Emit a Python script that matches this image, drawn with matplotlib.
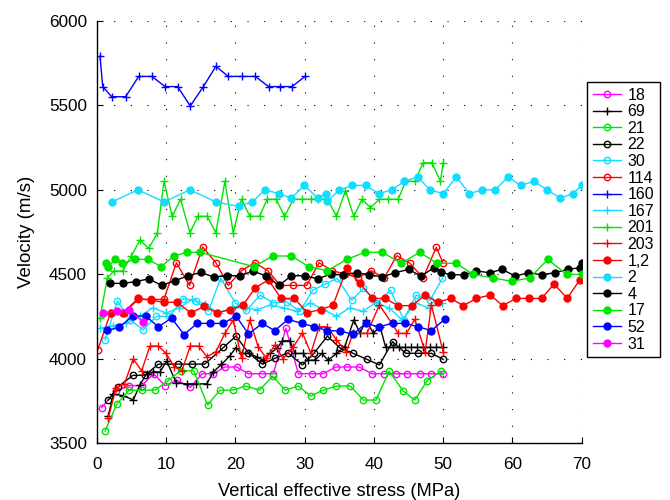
import numpy as np
import matplotlib
matplotlib.use("Agg")
import matplotlib.pyplot as plt

plt.rcParams['font.family'] = ['Liberation Sans', 'DejaVu Sans']

# ---- data: vertical effective stress (MPa) vs. velocity (m/s) per sample ----
s18_x = [0.72, 2.78, 4.7, 6.5, 8.2, 9.86, 11.6, 13.5, 15.2, 16.8, 18.5, 20.2, 21.9, 23.8, 25.5,
         27.3, 29.1, 31.0, 32.7, 34.5, 36.1, 37.9, 39.7, 41.4, 43.2, 44.8, 46.6, 48.3, 50.0]
s18_v = [3710, 3810, 3840, 3840, 3910, 3840, 3870, 3830, 3910, 3910, 3950, 3950, 3910, 3910, 3910,
         4180, 3910, 3910, 3910, 3950, 3950, 3950, 3910, 3910, 3910, 3910, 3910, 3910, 3910]

s69_x = [1.67, 2.4, 3.84, 5.28, 6.25, 7.2, 8.17, 9.13, 10.1, 11.5, 13.0, 14.4, 15.9, 16.8, 18.0,
         19.2, 20.1, 20.9, 22.0, 23.1, 24.0, 25.0, 26.0, 26.8, 27.9, 28.6, 29.8, 30.5, 31.5, 32.5,
         33.4, 34.6, 35.8, 37.1, 38.0, 38.9, 39.9, 40.9, 41.7, 42.7, 43.6, 44.5, 45.3, 46.2, 47.1,
         48.1, 49.0, 50.0]
s69_v = [3660, 3790, 3780, 3755, 3845, 3910, 3920, 3920, 3985, 3855, 3850, 3850, 3850, 3920, 3965,
         4015, 4065, 4030, 4030, 4010, 3990, 4030, 4060, 4105, 4105, 4030, 4030, 3990, 3990, 4030,
         3990, 4030, 4070, 4228, 4150, 4228, 4150, 4188, 4066, 4066, 4066, 4066, 4066, 4066, 4066,
         4066, 4066, 4066]

s21_x = [1.2, 2.89, 4.66, 6.49, 8.41, 10.3, 12.1, 14.0, 16.0, 17.8, 19.6, 21.5, 23.5, 25.4, 27.2,
         29.1, 30.9, 32.7, 34.6, 36.6, 38.5, 40.3, 42.2, 44.2, 45.9, 47.7, 49.7]
s21_v = [3570, 3730, 3813, 3813, 3813, 3869, 3928, 3928, 3725, 3813, 3813, 3837, 3813, 3896, 3813,
         3837, 3778, 3813, 3837, 3837, 3754, 3754, 3926, 3809, 3754, 3869, 3926]

s22_x = [1.67, 3.1, 5.2, 7.0, 8.9, 11.8, 13.7, 15.6, 18.3, 20.1, 21.9, 23.9, 25.7, 27.6, 29.7,
         31.4, 33.3, 35.1, 37.0, 39.0, 40.8, 42.7, 44.6, 46.4, 48.3, 50.0]
s22_v = [3754, 3833, 3900, 3902, 3967, 3967, 3967, 3967, 4066, 4133, 4034, 3967, 4001, 4034, 3962,
         4034, 4133, 4063, 4031, 3995, 3962, 4100, 4031, 4031, 4031, 3995]

s30_x = [1.2, 3.0, 4.8, 6.7, 8.6, 10.5, 12.5, 14.3, 16.1, 17.9, 20.0, 21.6, 23.6, 25.5, 27.4,
         29.3, 31.2, 32.9, 34.7, 36.8, 38.5, 40.5, 42.4, 44.3, 46.1, 48.1, 49.9]
s30_v = [4110, 4340, 4230, 4170, 4250, 4250, 4355, 4340, 4280, 4475, 4330, 4285, 4375, 4330, 4335,
         4280, 4405, 4440, 4475, 4345, 4415, 4330, 4405, 4230, 4375, 4345, 4475]

s114_x = [0.14, 2.0, 3.9, 6.0, 7.84, 9.7, 11.5, 13.4, 15.3, 17.2, 19.0, 20.9, 22.8, 24.7, 26.5,
          28.4, 30.3, 32.1, 34.0, 35.9, 37.75, 39.6, 41.5, 43.3, 45.2, 47.1, 49.0, 50.0]
s114_v = [4050, 4270, 4270, 4350, 4350, 4350, 4567, 4433, 4660, 4567, 4433, 4520, 4567, 4520, 4433,
          4433, 4433, 4567, 4520, 4500, 4478, 4520, 4478, 4609, 4564, 4477, 4658, 4564]

s160_x = [0.48, 0.87, 2.16, 4.18, 6.06, 7.98, 9.86, 11.68, 13.5, 15.4, 17.2, 19.0, 20.97, 22.9,
          24.8, 26.4, 28.2, 30.06]
s160_v = [5790, 5610, 5550, 5550, 5670, 5670, 5610, 5610, 5495, 5610, 5730, 5670, 5670, 5670,
          5610, 5610, 5610, 5670]

s167_x = [0.5, 2.4, 4.3, 6.2, 8.1, 10.0, 11.9, 13.8, 15.7, 17.6, 19.5, 21.4, 23.2, 25.1, 27.0,
          28.9, 30.8, 32.7, 34.6, 36.5, 38.4, 40.3, 42.2, 44.1, 46.0, 47.9, 49.8]
s167_v = [4180, 4195, 4210, 4250, 4300, 4270, 4300, 4350, 4320, 4270, 4300, 4300, 4290, 4317, 4300,
          4280, 4330, 4290, 4250, 4300, 4280, 4330, 4300, 4228, 4330, 4300, 4330]

s201_x = [0.48, 1.53, 2.5, 3.75, 5.0, 6.25, 7.5, 8.75, 9.71, 10.9, 12.1, 13.46, 14.6, 15.96, 17.2,
          18.5, 19.7, 20.9, 22.1, 23.5, 24.6, 25.9, 27.1, 28.4, 29.6, 30.9, 32.0, 33.3, 34.6, 35.9,
          37.1, 38.3, 39.5, 40.8, 42.1, 43.5, 44.6, 45.9, 47.1, 48.4, 49.6, 50.0]
s201_v = [4238, 4478, 4518, 4518, 4607, 4702, 4652, 4741, 5049, 4842, 4943, 4745, 4842, 4842, 4745,
          5049, 4745, 4943, 4842, 4842, 4943, 4943, 4842, 4943, 4943, 4943, 4943, 4943, 4842, 4994,
          4842, 4943, 4893, 4943, 4943, 4943, 5049, 5049, 5159, 5159, 5049, 5159]

s203_x = [1.67, 2.78, 4.0, 5.28, 6.49, 7.69, 8.89, 10.0, 11.2, 12.3, 13.5, 14.7, 15.9, 17.2, 18.5,
          19.7, 20.9, 22.1, 23.3, 24.5, 25.7, 26.9, 28.4, 29.7, 30.9, 32.1, 33.3, 34.6, 36.0, 37.0,
          39.0, 40.8, 42.6, 43.5, 44.7, 45.9, 47.4, 48.3, 50.0]
s203_v = [3646, 3827, 3850, 3997, 3928, 4074, 4074, 4031, 3951, 3928, 4074, 4074, 4011, 4040, 4149,
          4228, 4001, 4228, 4070, 4001, 4080, 4000, 4070, 4153, 4031, 4188, 4188, 4110, 4040, 4149,
          4149, 4317, 4208, 4149, 4149, 4232, 4040, 4317, 4040]

s1_2_x = [2.02, 3.75, 6.0, 7.84, 9.71, 11.6, 13.6, 15.5, 17.4, 19.2, 21.1, 22.9, 24.8, 26.6, 28.5,
          30.4, 32.3, 34.1, 36.1, 38.0, 39.8, 41.6, 43.5, 45.5, 47.4, 49.2, 51.1, 52.9, 54.8, 56.8,
          58.6, 60.5, 62.4, 64.2, 66.0, 67.9, 69.7]
s1_2_v = [4270, 4270, 4356, 4345, 4333, 4333, 4270, 4309, 4270, 4290, 4315, 4420, 4465, 4356, 4356,
          4272, 4290, 4315, 4534, 4445, 4356, 4356, 4313, 4313, 4376, 4333, 4356, 4313, 4356, 4376,
          4313, 4356, 4356, 4356, 4441, 4356, 4465]

s2_x = [2.21, 5.96, 9.71, 13.46, 17.2, 20.5, 22.45, 24.3, 26.3, 28.1, 29.96, 31.9, 33.1, 33.3,
        35.0, 36.9, 38.8, 40.7, 42.6, 44.4, 46.3, 48.1, 50.0, 51.9, 53.8, 55.6, 57.5, 59.4, 61.2,
        63.1, 65.0, 66.9, 68.7, 70.0]
s2_v = [4927, 4999, 4927, 4999, 4927, 4901, 4927, 4999, 4976, 4950, 5025, 4950, 4976, 4930,
        4999, 5025, 5025, 4976, 4999, 5049, 5075, 4999, 4976, 5075, 4976, 4999, 4999, 5075, 5025,
        5049, 4999, 4950, 4976, 5025]

s4_x = [1.92, 3.75, 5.63, 7.5, 9.38, 11.3, 13.2, 15.05, 16.9, 18.8, 20.7, 22.5, 24.4, 26.3, 28.1,
        30.0, 31.9, 33.8, 35.6, 37.5, 39.3, 41.2, 43.1, 45.0, 46.8, 48.7, 49.7, 51.2, 53.0, 54.8,
        56.75, 58.5, 60.4, 62.3, 64.2, 66.1, 68.0, 69.8, 70.0]
s4_v = [4445, 4445, 4455, 4472, 4433, 4461, 4490, 4510, 4482, 4490, 4490, 4518, 4490, 4433, 4490,
        4490, 4472, 4500, 4496, 4508, 4496, 4484, 4508, 4528, 4488, 4538, 4510, 4496, 4496, 4518,
        4508, 4528, 4488, 4508, 4496, 4508, 4528, 4538, 4567]

s17_x = [1.34, 1.68, 2.64, 3.7, 5.53, 7.45, 9.28, 11.15, 13.0, 14.9, 22.7, 25.4, 28.1, 30.6, 33.3,
         36.1, 38.7, 41.2, 43.95, 46.6, 49.1, 51.9, 54.3, 57.2, 59.9, 62.5, 65.1, 67.8, 70.0]
s17_v = [4564, 4544, 4587, 4564, 4587, 4587, 4544, 4607, 4629, 4629, 4544, 4607, 4607, 4544, 4520,
         4587, 4629, 4629, 4564, 4629, 4564, 4564, 4498, 4477, 4457, 4477, 4587, 4498, 4498]

s52_x = [1.53, 3.26, 5.2, 7.1, 8.9, 10.8, 12.6, 14.5, 16.4, 18.3, 20.1, 21.9, 23.9, 25.7, 27.6,
         29.6, 31.4, 33.3, 35.1, 37.0, 38.8, 40.7, 42.7, 44.5, 46.4, 48.3, 50.2]
s52_v = [4167, 4185, 4252, 4252, 4187, 4240, 4142, 4208, 4208, 4208, 4253, 4145, 4208, 4165, 4232,
         4208, 4188, 4165, 4164, 4143, 4208, 4188, 4208, 4208, 4188, 4165, 4232]

s31_x = [0.95, 2.97, 4.7, 6.7]
s31_v = [4270, 4283, 4285, 4218]

labels = ['18', '69', '21', '22', '30', '114', '160', '167', '201', '203',
          '1,2', '2', '4', '17', '52', '31']

MAG, BLK, GRN, CYN, RED, BLU = '#ff00ff', '#000000', '#00e400', '#11ddff', '#ff0000', '#0000ff'

# (x, v, colour, marker, filled)
series = [
    (s18_x, s18_v, MAG, 'o', False),
    (s69_x, s69_v, BLK, '+', True),
    (s21_x, s21_v, GRN, 'o', False),
    (s22_x, s22_v, BLK, 'o', False),
    (s30_x, s30_v, CYN, 'o', False),
    (s114_x, s114_v, RED, 'o', False),
    (s160_x, s160_v, BLU, '+', True),
    (s167_x, s167_v, CYN, '+', True),
    (s201_x, s201_v, GRN, '+', True),
    (s203_x, s203_v, RED, '+', True),
    (s1_2_x, s1_2_v, RED, 'o', True),
    (s2_x, s2_v, CYN, 'o', True),
    (s4_x, s4_v, BLK, 'o', True),
    (s17_x, s17_v, GRN, 'o', True),
    (s52_x, s52_v, BLU, 'o', True),
    (s31_x, s31_v, MAG, 'o', True),
]

fig = plt.figure(figsize=(6.7, 5.0), dpi=100)
ax = fig.add_axes([0.1443, 0.114, 0.7240, 0.8446])

handles = []
for (x, v, c, m, filled), lab in zip(series, labels):
    if m == '+':
        kw = dict(marker='+', markersize=5.5, markeredgewidth=1.0, color=c)
    elif filled:
        kw = dict(marker='o', markersize=5.0, markerfacecolor=c, markeredgecolor=c, color=c)
    else:
        kw = dict(marker='o', markersize=4.6, markerfacecolor='none', markeredgecolor=c,
                  markeredgewidth=1.0, color=c)
    h, = ax.plot(x, v, linewidth=1.0, label=lab, **kw)
    handles.append(h)

ax.set_xlim(0, 70)
ax.set_ylim(3500, 6000)
ax.set_xticks(np.arange(0, 71, 10))
ax.set_yticks(np.arange(3500, 6001, 500))

for side in ('top', 'right'):
    ax.spines[side].set_visible(False)
for side in ('left', 'bottom'):
    ax.spines[side].set_linewidth(1.0)

ax.grid(True, color='black', linestyle=(0, (1, 14)), linewidth=0.8)
ax.set_axisbelow(True)
ax.tick_params(direction='in', length=4, width=0.8, labelsize=12.3)
ax.tick_params(axis='y', pad=7)
ax.tick_params(axis='x', pad=10)

ax.set_xlabel('Vertical effective stress (MPa)', fontsize=13.2, labelpad=8)
ax.set_ylabel('Velocity (m/s)', fontsize=13.5, labelpad=10)

leg = ax.legend(handles, labels, loc='upper left',
                bbox_to_anchor=(587 / 670, 1 - 82 / 500), bbox_transform=fig.transFigure,
                borderaxespad=0, frameon=True, fancybox=False, edgecolor='black',
                framealpha=1, fontsize=11.5, handlelength=1.75, handletextpad=0.45,
                labelspacing=0.1, borderpad=0.35)
leg.get_frame().set_linewidth(1.0)

fig.savefig('out.png', dpi=100)
